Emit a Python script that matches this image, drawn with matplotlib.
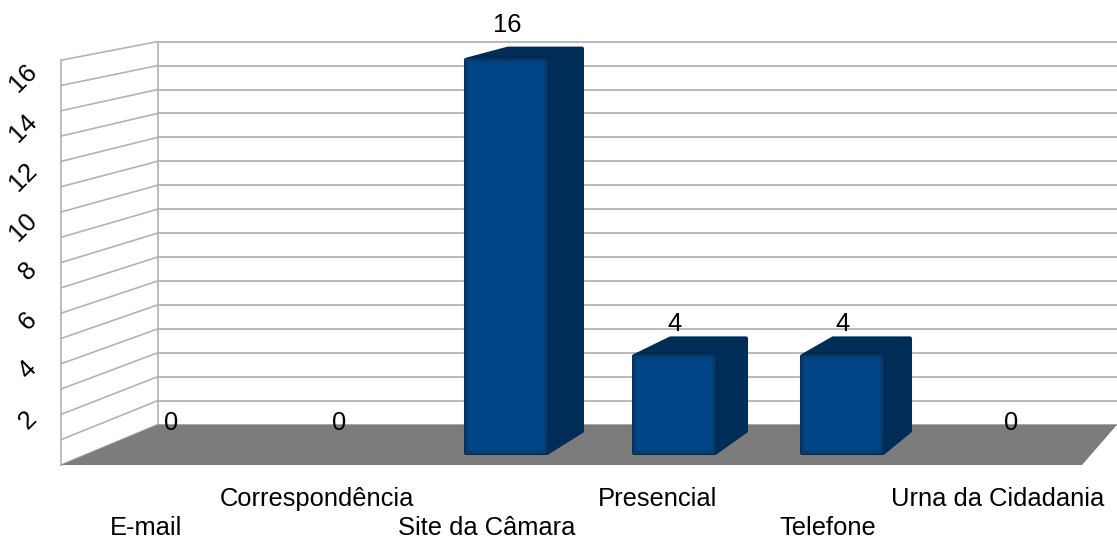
import matplotlib
matplotlib.use("Agg")
import matplotlib.pyplot as plt
from matplotlib.patches import Polygon

plt.rcParams["font.family"] = ["Liberation Sans", "DejaVu Sans"]

categories = ["E-mail", "Correspondência", "Site da Câmara", "Presencial", "Telefone", "Urna da Cidadania"]
values = [0, 0, 16, 4, 4, 0]
y_ticks = [2, 4, 6, 8, 10, 12, 14, 16]
y_max = 16

grid_color = "#b3b3b3"
floor_color = "#7c7c7c"
front_color = "#004586"
front_shades = ["#0b3868", "#023f7a", "#004382"]
side_color = "#002c58"
font_size = 18.4


# the axes are in picture pixels, these turn values into positions
def wall_front(v):
    return 465 - v * 25.3


def wall_back(v):
    return 424.7 - v * 23.94


def bar_front(v):
    return 454 - v * 24.7


def bar_back(v):
    return 433 - v * 24.15


def bar_x(i):
    return 506 + (i - 2) * 168


fig = plt.figure(figsize=(11.17, 5.38), dpi=100)
ax = fig.add_axes([0, 0, 1, 1])
ax.set_xlim(0, 1117)
ax.set_ylim(538, 0)
ax.axis("off")

# walls
for v in range(y_max + 1):
    ax.plot([61, 157.5], [wall_front(v), wall_back(v)], color=grid_color, lw=1.2, zorder=1)
    ax.plot([157.5, 1117], [wall_back(v), wall_back(v)], color=grid_color, lw=1.3, zorder=1)
ax.plot([61, 61], [wall_front(0), wall_front(y_max)], color=grid_color, lw=1.2, zorder=1)
ax.plot([157.5, 157.5], [wall_back(0), wall_back(y_max)], color=grid_color, lw=1.2, zorder=1)

# floor
ax.add_patch(Polygon([(61, wall_front(0)), (157.5, wall_back(0)), (1117, wall_back(0)),
                      (1082, wall_front(0))], closed=True, fc=floor_color, ec="none", zorder=2))

# bars, the depth gets smaller to the right because of the perspective
for i in range(len(categories)):
    v = values[i]
    if v > 0:
        x = bar_x(i)
        l = x - 41
        r = x + 41
        r2 = r + 37 - 4 * (i - 2)
        l2 = l + 43 - 5.5 * (i - 2)
        ax.add_patch(Polygon([(l + 1, bar_front(v) + 1), (l2, bar_back(v) + 2), (r2 - 2, bar_back(v) + 2),
                              (r2 - 2, bar_back(0) - 2), (r, bar_front(0) - 1), (l + 1, bar_front(0) - 1)],
                             closed=True, fc=side_color, ec=side_color, lw=2.9, joinstyle="round", zorder=3))
        # front face, lighter towards the middle
        ax.add_patch(Polygon([(l + 2, bar_front(v) + 2), (r - 2, bar_front(v) + 2),
                              (r - 2, bar_front(0) - 2), (l + 2, bar_front(0) - 2)],
                             closed=True, fc=front_shades[0], ec=front_shades[0], lw=2.9, joinstyle="round", zorder=4))
        for k in range(1, 3):
            ax.add_patch(Polygon([(l + 1 + k, bar_front(v) + 1 + k), (r - 1 - k, bar_front(v) + 1 + k),
                                  (r - 1 - k, bar_front(0) - 1 - k), (l + 1 + k, bar_front(0) - 1 - k)],
                                 closed=True, fc=front_shades[k], ec="none", zorder=4 + k))
        ax.add_patch(Polygon([(l + 4, bar_front(v) + 4), (r - 4, bar_front(v) + 4),
                              (r - 4, bar_front(0) - 4), (l + 4, bar_front(0) - 4)],
                             closed=True, fc=front_color, ec="none", zorder=7))

# value labels
for i in range(len(categories)):
    ax.text(bar_x(i) + 1, 423 - values[i] * 24.85, str(values[i]), fontsize=font_size, color="black",
            ha="center", va="center", zorder=8)

# y labels
for t in y_ticks:
    ax.text(33, 464.6 - t * 24.8, str(t), fontsize=font_size, color="black", rotation=45,
            ha="right", va="center", rotation_mode="anchor", zorder=8)

# x labels, staggered on two rows
for i in range(len(categories)):
    ax.text(146.5 + i * 170.2, 528 if i % 2 == 0 else 499, categories[i], fontsize=font_size, color="black",
            ha="center", va="center", zorder=8)

fig.savefig("out.png", dpi=100)
